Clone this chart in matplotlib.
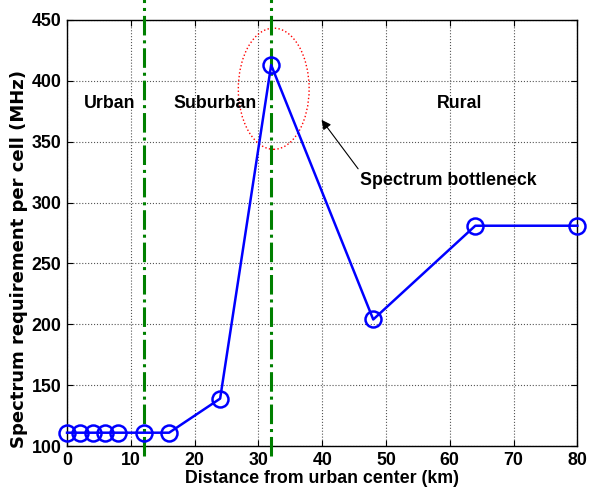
import matplotlib
matplotlib.use('Agg')
import matplotlib.pyplot as plt
from matplotlib.patches import Ellipse

# distance from urban center (km) and spectrum need per cell (MHz)
distance = [0, 2, 4, 6, 8, 12, 16, 24, 32, 48, 64, 80]
spectrum = [111, 111, 111, 111, 111, 111, 111, 139, 413, 204, 281, 281]

borders = [12, 32]
regions = ['Urban', 'Suburban', 'Rural']
region_x = [6.7, 23.2, 61.5]
region_y = 381

FS = 12.8

plt.rcParams['font.family'] = ['Liberation Sans', 'DejaVu Sans']
plt.rcParams['font.weight'] = 'bold'
plt.rcParams['font.size'] = FS

fig = plt.figure(figsize=(5.9, 4.87), dpi=100)
ax = fig.add_axes([0.1136, 0.084, 0.865, 0.875])

ax.plot(distance, spectrum, '-o', color='blue', linewidth=1.8,
        markersize=11.5, markerfacecolor='none', markeredgewidth=1.8,
        zorder=4, clip_on=False)

for b in borders:
    ax.plot([b, b], [92, 470], linestyle='-.', color='green',
            linewidth=2.2, clip_on=False, zorder=3)

for name, x in zip(regions, region_x):
    ax.text(x, region_y, name, ha='center', va='center',
            fontweight='bold', fontsize=FS)

ax.add_patch(Ellipse((32.4, 393.5), 11.1, 99.5, fill=False,
                     edgecolor='red', linestyle=':', linewidth=1.0,
                     zorder=2))
ax.annotate('Spectrum bottleneck', xy=(39.9, 368), xytext=(59.8, 318.5),
            ha='center', va='center', fontweight='bold', fontsize=FS,
            arrowprops=dict(arrowstyle='-|>', color='black', lw=0.8,
                            shrinkA=0, shrinkB=0, mutation_scale=14,
                            relpos=(0.0, 1.0)))

ax.set_xlim(0, 80)
ax.set_ylim(100, 450)
ax.set_xticks(range(0, 81, 10))
ax.set_yticks(range(100, 451, 50))
ax.grid(True, linestyle=':', color='#555555', linewidth=0.8)
ax.tick_params(direction='in', top=True, right=True, length=4,
               labelsize=FS, width=0.8, pad=4)
for lab in ax.get_xticklabels() + ax.get_yticklabels():
    lab.set_fontweight('bold')
for s in ax.spines.values():
    s.set_linewidth(1.0)

ax.set_xlabel('Distance from urban center (km)', fontweight='bold',
              fontsize=FS, labelpad=1)
ax.set_ylabel('Spectrum requirement per cell (MHz)', fontweight='bold',
              fontsize=13, family='DejaVu Sans')
ax.yaxis.set_label_coords(-0.076, 0.438)

fig.savefig('out.png', dpi=100)
